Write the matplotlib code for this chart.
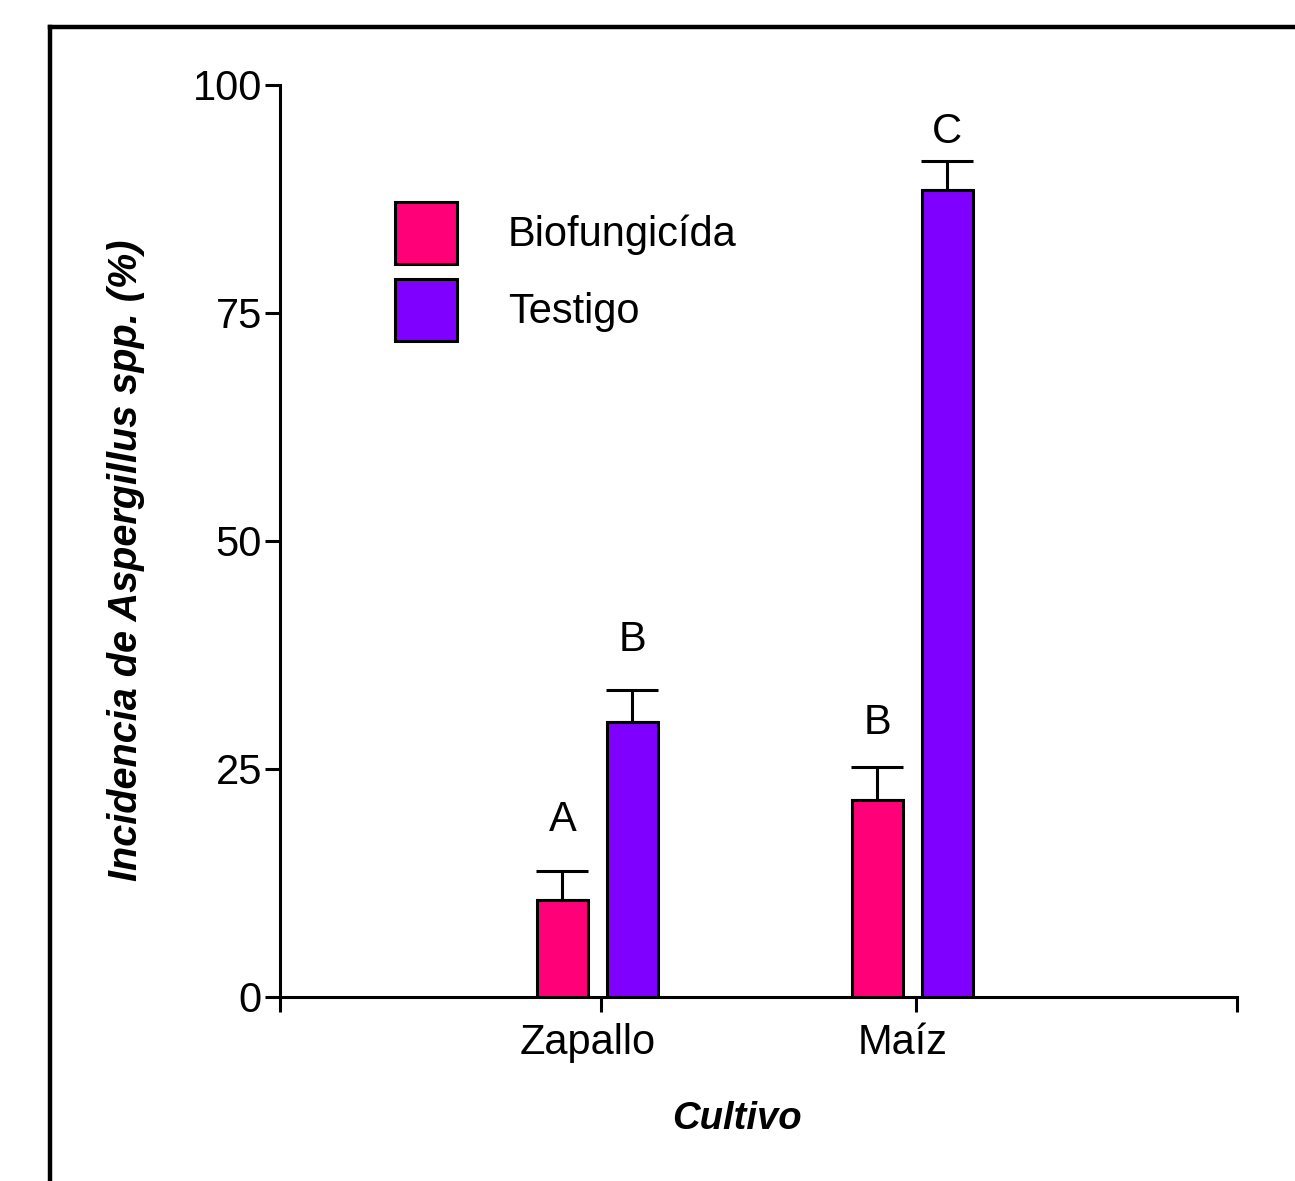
import numpy as np
import matplotlib.pyplot as plt
import matplotlib.transforms as mtransforms
from matplotlib.lines import Line2D
from matplotlib.patches import Patch

plt.rcParams['font.family'] = ['Liberation Sans', 'DejaVu Sans']

cultivos = ['Zapallo', 'Maíz']
series = ['Biofungicída', 'Testigo']
bio_vals = [10.6, 21.6]
bio_err = [3.2, 3.6]
test_vals = [30.2, 88.5]
test_err = [3.5, 3.2]
bio_letters = ['A', 'B']
test_letters = ['B', 'C']
yticks = [0, 25, 50, 75, 100]

c_bio = '#ff0078'
c_test = '#8000ff'

fig = plt.figure(figsize=(12.95, 11.81), dpi=100)
ax = fig.add_axes([280/1295, 1-997/1181, (1237-280)/1295, (997-85)/1181])

x = np.arange(len(cultivos))
w = 0.162
off = 0.111
shift = -0.012
lw = 2.2
fs = 30

ax.bar(x + shift - off, bio_vals, w, color=c_bio, edgecolor='black', linewidth=lw, zorder=3)
ax.bar(x + shift + off, test_vals, w, color=c_test, edgecolor='black', linewidth=lw, zorder=3)
ax.errorbar(x + shift - off, bio_vals, yerr=[np.zeros(2), bio_err], fmt='none', ecolor='black',
            elinewidth=lw, capsize=19, capthick=lw, zorder=2)
ax.errorbar(x + shift + off, test_vals, yerr=[np.zeros(2), test_err], fmt='none', ecolor='black',
            elinewidth=lw, capsize=19, capthick=lw, zorder=2)

# letras de significancia (separacion sobre la barra de error)
gap_bio = [3.4, 2.7]
gap_test = [3.2, 0.9]
for i in range(len(cultivos)):
    ax.text(x[i] + shift - off, bio_vals[i] + bio_err[i] + gap_bio[i], bio_letters[i],
            ha='center', va='bottom', fontsize=fs)
    ax.text(x[i] + shift + off, test_vals[i] + test_err[i] + gap_test[i], test_letters[i],
            ha='center', va='bottom', fontsize=fs)

ax.set_xlim(-1.02, 2.02)
ax.set_ylim(0, 100)
ax.set_yticks(yticks)
ax.set_xticks([-1.02, 0, 1, 2.02])
ax.set_xticklabels([])
tr = ax.get_xaxis_transform() + mtransforms.ScaledTranslation(-0.13, -0.26, fig.dpi_scale_trans)
for i in range(len(cultivos)):
    ax.text(x[i], 0, cultivos[i], transform=tr, ha='center', va='top', fontsize=fs)

for s in ['top', 'right']:
    ax.spines[s].set_visible(False)
for s in ['left', 'bottom']:
    ax.spines[s].set_linewidth(lw)
ax.tick_params(axis='both', width=lw, length=11, labelsize=fs, direction='out')
ax.tick_params(axis='y', pad=2)

ax.set_ylabel('Incidencia de Aspergillus spp. (%)', fontsize=28.5, fontweight='bold', fontstyle='italic')
ax.yaxis.set_label_coords(-0.141, 0.479)
ax.set_xlabel('Cultivo', fontsize=27.5, fontweight='bold', fontstyle='italic')
ax.xaxis.set_label_coords(0.4775, -0.1135)

handles = [Patch(facecolor=c_bio, edgecolor='black', linewidth=lw),
           Patch(facecolor=c_test, edgecolor='black', linewidth=lw)]
ax.legend(handles, series, loc='upper left', bbox_to_anchor=(0.12, 0.872), frameon=False,
          fontsize=fs, handlelength=1.49, handleheight=1.91, labelspacing=0.36,
          handletextpad=1.22, borderpad=0, borderaxespad=0)

# marco exterior
fig.add_artist(Line2D([50/1295, 50/1295], [0, 1-27/1181], color='black', lw=3.2, transform=fig.transFigure))
fig.add_artist(Line2D([50/1295, 1], [1-27/1181, 1-27/1181], color='black', lw=3.2, transform=fig.transFigure))

fig.savefig('out.png', dpi=100)
